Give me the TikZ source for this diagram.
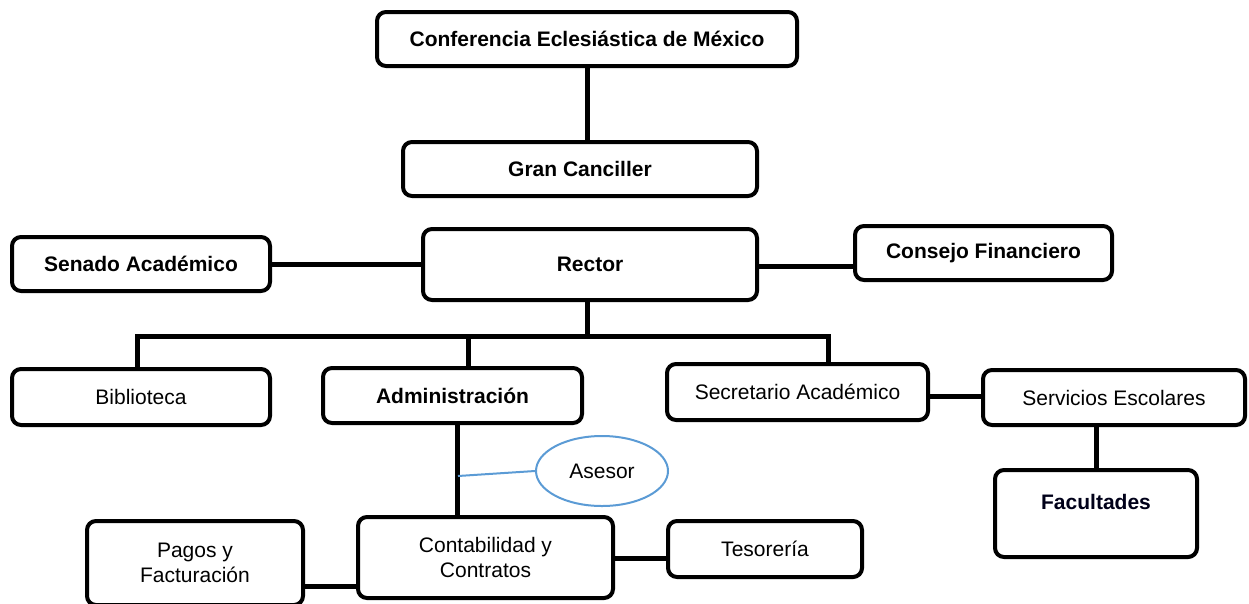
\documentclass[tikz,border=0pt]{standalone}
\usepackage{fontspec}
\setmainfont{Liberation Sans}
\usetikzlibrary{shapes.geometric,shadows}
\definecolor{asesorblue}{HTML}{5B9BD5}
\begin{document}
\begin{tikzpicture}[x=1pt,y=-1pt,
  box/.style={draw=black,line width=4pt,rounded corners=9pt,fill=white,inner sep=0pt,align=center,font=\fontsize{21}{25}\selectfont},
  boldbox/.style={box,font=\fontsize{21}{25}\selectfont\bfseries},
  conn/.style={draw=black,line width=5pt},
  thinblue/.style={draw=asesorblue,line width=2pt}]
\useasboundingbox (0,0) rectangle (1249,603);

% nodes
\node[boldbox,minimum width=420pt,minimum height=54pt] (conf) at (587,39) {Conferencia Eclesiástica de México};
\node[boldbox,minimum width=354pt,minimum height=54pt] (gran) at (580,169) {Gran Canciller};
\node[boldbox,minimum width=334pt,minimum height=71pt] (rector) at (590,264.5) {Rector};
\node[boldbox,minimum width=258pt,minimum height=54pt] (senado) at (141,264) {Senado Académico};
\node[boldbox,minimum width=257pt,minimum height=54pt] (consejo) at (983.5,253) {Consejo Financiero};
\node[box,minimum width=258pt,minimum height=56pt] (bibl) at (141,397) {Biblioteca};
\node[boldbox,minimum width=259pt,minimum height=55pt] (admin) at (452.5,395.5) {Administración};
\node[box,minimum width=261pt,minimum height=56pt] (secr) at (797.5,392) {Secretario Académico};
\node[box,minimum width=262pt,minimum height=55pt] (serv) at (1114,397.5) {Servicios Escolares};
\node[box,minimum width=202pt,minimum height=87pt,drop shadow={shadow xshift=1.5pt,shadow yshift=-1.5pt,opacity=0.35}] (fac) at (1096,513.5) {};
\node[font=\fontsize{21}{25}\selectfont\bfseries,text=black!90!blue] (factext) at ([yshift=11.5pt]fac.center) {Facultades};
\node[box,minimum width=255pt,minimum height=81pt] (cont) at (485.5,557.5) {Contabilidad y\\Contratos};
\node[box,minimum width=216pt,minimum height=84pt] (pagos) at (195,563) {Pagos y\\Facturación};
\node[box,minimum width=194pt,minimum height=56pt] (tes) at (765,549) {Tesorería};
\node[ellipse,draw=asesorblue,line width=2pt,minimum width=132pt,minimum height=70pt,inner sep=0pt,font=\fontsize{21}{25}\selectfont] (asesor) at (602,471) {Asesor};

% coordinates
\coordinate (busL) at (137,336);
\coordinate (busR) at (828,336);
\coordinate (admx) at (457,0);
\coordinate (asj) at (458,476);

% connectors
\draw[conn] (conf.south) -- (conf.south |- gran.north);
\draw[conn] (gran.south -| conf.south) -- (gran.south -| conf.south |- rector.north);
\draw[conn] (senado.east) -- (senado.east -| rector.west);
\draw[conn] ([yshift=-1.5pt]rector.east) -- ([yshift=-1.5pt]rector.east -| consejo.west);
\draw[conn] (rector.south -| conf.south) -- (busL -| conf.south);
\draw[conn,line cap=rect] (busL) -- (busR);
\draw[conn] (busL) -- (busL |- bibl.north);
\draw[conn] ([xshift=11pt]busL -| admx) -- ([xshift=11pt]admx |- admin.north);
\draw[conn] (busR) -- (busR |- secr.north);
\draw[conn] ([yshift=-4pt]secr.east) -- ([yshift=-4pt]secr.east -| serv.west);
\draw[conn] (serv.south -| fac.north) -- (fac.north);
\draw[conn] (admx |- admin.south) -- (admx |- cont.north);
\draw[thinblue] (asesor.west) -- (asj);
\draw[conn] ([yshift=-23pt]pagos.east) -- ([yshift=-23pt]pagos.east -| cont.west);
\draw[conn] ([yshift=-1pt]cont.east) -- ([yshift=-1pt]cont.east -| tes.west);
\end{tikzpicture}
\end{document}
